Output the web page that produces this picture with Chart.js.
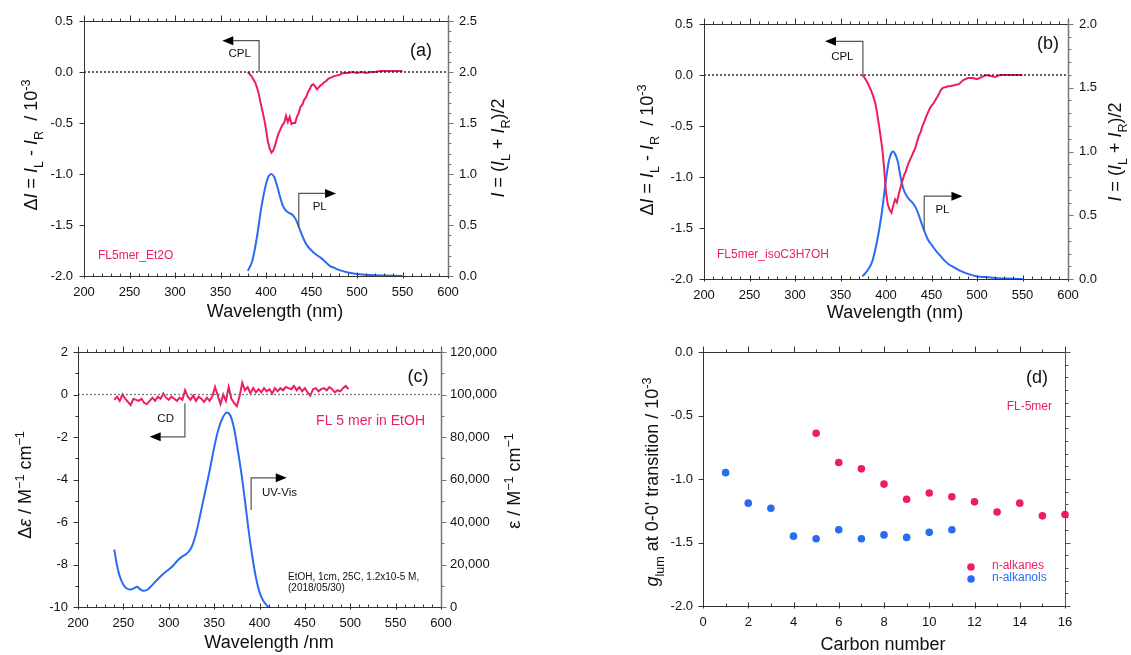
<!DOCTYPE html>
<html>
<head>
<meta charset="utf-8">
<script src="https://cdn.jsdelivr.net/npm/chart.js@4.4.1/dist/chart.umd.min.js"></script>
<style>
  body { margin: 0; background: #fff; overflow: hidden; }
  canvas { position: absolute; }
</style>
</head>
<body>
<canvas id="chartA" width="565" height="330" style="left:0;top:0"></canvas>
<canvas id="chartB" width="566" height="330" style="left:565px;top:0"></canvas>
<canvas id="chartC" width="565" height="325" style="left:0;top:330px"></canvas>
<canvas id="chartD" width="566" height="325" style="left:565px;top:330px"></canvas>
<script>
// ---- data ----
const baselineX = [200, 600];

// (a) FL5mer in Et2O
const wlCplA = [380, 382, 384, 386, 388, 390, 392, 394, 396, 398, 400, 402, 404, 406, 408, 410, 412, 414, 416, 418,
  420, 422, 424, 426, 428, 430, 432, 434, 436, 438, 440, 442, 444, 446, 448, 450, 452, 454, 456, 458, 460, 462, 464,
  466, 468, 470, 475, 480, 485, 490, 495, 500, 505, 510, 515, 520, 525, 530, 535, 540, 545, 550];
const cplA = [0.00, -0.02, -0.04, -0.07, -0.10, -0.15, -0.21, -0.30, -0.38, -0.46, -0.56, -0.68, -0.75, -0.79, -0.77,
  -0.72, -0.65, -0.60, -0.56, -0.52, -0.50, -0.43, -0.49, -0.44, -0.51, -0.50, -0.50, -0.44, -0.40, -0.34, -0.32,
  -0.27, -0.25, -0.20, -0.17, -0.13, -0.12, -0.14, -0.17, -0.15, -0.13, -0.12, -0.10, -0.09, -0.07, -0.06, -0.04,
  -0.03, -0.01, -0.01, 0.00, -0.01, 0.00, -0.01, 0.00, 0.00, 0.01, 0.01, 0.01, 0.01, 0.01, 0.01];
const wlPlA = [380, 385, 390, 395, 400, 403, 406, 409, 412, 415, 418, 421, 425, 429, 433, 437, 441, 445, 450, 455,
  460, 465, 470, 475, 480, 490, 500, 515, 530, 550];
const plA = [0.05, 0.15, 0.38, 0.68, 0.90, 0.98, 1.00, 0.97, 0.89, 0.79, 0.70, 0.65, 0.62, 0.60, 0.55, 0.46, 0.37,
  0.30, 0.25, 0.21, 0.18, 0.14, 0.10, 0.08, 0.06, 0.035, 0.02, 0.01, 0.005, 0.0];

// (b) FL5mer in isoC3H7OH
const wlCplB = [374, 376, 378, 380, 382, 384, 386, 388, 390, 392, 394, 396, 398, 400, 402, 404, 406, 408, 410, 412,
  414, 416, 418, 420, 422, 424, 426, 428, 430, 432, 434, 436, 438, 440, 442, 444, 446, 448, 450, 452, 454, 456, 458,
  460, 462, 464, 466, 468, 470, 475, 480, 485, 490, 495, 500, 505, 510, 515, 520, 525, 530, 535, 540, 545, 550];
const cplB = [0.00, -0.02, -0.05, -0.08, -0.12, -0.16, -0.21, -0.27, -0.36, -0.48, -0.60, -0.73, -0.92, -1.15, -1.27,
  -1.32, -1.35, -1.28, -1.22, -1.25, -1.17, -1.10, -1.04, -0.98, -0.94, -0.88, -0.84, -0.80, -0.76, -0.72, -0.66,
  -0.60, -0.56, -0.50, -0.46, -0.41, -0.37, -0.33, -0.30, -0.28, -0.25, -0.22, -0.19, -0.15, -0.13, -0.12, -0.12,
  -0.11, -0.11, -0.10, -0.09, -0.05, -0.03, -0.03, -0.04, -0.02, 0.00, -0.01, -0.02, 0.00, 0.00, 0.00, 0.00, 0.00, 0.00];
const wlPlB = [374, 380, 385, 390, 395, 400, 403, 406, 408, 410, 413, 416, 419, 422, 426, 430, 434, 438, 442, 446,
  450, 455, 460, 465, 470, 475, 480, 490, 500, 510, 520, 535, 550];
const plB = [0.02, 0.07, 0.14, 0.29, 0.50, 0.78, 0.92, 0.99, 1.00, 0.98, 0.92, 0.80, 0.71, 0.66, 0.62, 0.59, 0.54,
  0.46, 0.38, 0.31, 0.27, 0.22, 0.18, 0.14, 0.11, 0.09, 0.07, 0.04, 0.02, 0.015, 0.008, 0.003, 0.0];

// (c) FL 5 mer in EtOH, CD and UV-Vis
const wlCd = [240, 243, 246, 249, 252, 255, 258, 261, 264, 267, 270, 273, 276, 279, 282, 285, 288, 291, 294, 297,
  300, 303, 306, 309, 312, 315, 318, 321, 324, 327, 330, 333, 336, 339, 342, 345, 348, 351, 354, 357, 360, 363, 366,
  369, 372, 375, 378, 381, 384, 387, 390, 393, 396, 399, 402, 405, 408, 411, 414, 417, 420, 423, 426, 429, 432, 435,
  438, 441, 444, 447, 450, 453, 456, 459, 462, 465, 468, 471, 474, 477, 480, 483, 486, 489, 492, 495, 498];
const cdEps = [-0.25, -0.1, -0.3, 0.0, -0.2, -0.35, -0.5, -0.2, -0.25, -0.3, -0.2, -0.4, -0.45, -0.3, -0.15, -0.3,
  -0.1, -0.2, 0.05, -0.15, -0.25, -0.1, -0.2, -0.3, -0.15, -0.25, 0.2, -0.1, -0.25, -0.05, -0.3, -0.1, -0.2, -0.35,
  -0.15, -0.3, -0.1, 0.35, -0.05, -0.45, 0.0, -0.3, 0.35, -0.2, -0.4, -0.55, -0.1, 0.55, 0.2, 0.35, 0.05, 0.3, 0.1,
  0.25, 0.1, 0.3, 0.15, 0.25, 0.05, 0.3, 0.15, 0.3, 0.2, 0.35, 0.3, 0.25, 0.4, 0.2, 0.35, 0.15, 0.3, 0.1, -0.05,
  0.25, 0.3, 0.15, 0.25, 0.3, 0.2, 0.35, 0.25, 0.1, 0.2, 0.15, 0.3, 0.4, 0.25];
const wlUv = [240, 243, 246, 250, 254, 258, 262, 265, 268, 272, 276, 280, 285, 290, 295, 300, 305, 310, 315, 320,
  325, 330, 335, 340, 345, 350, 355, 360, 364, 368, 372, 376, 380, 384, 388, 392, 396, 400, 404, 408, 410];
const uvEps = [27000, 19500, 14500, 10500, 8700, 8200, 8900, 9500, 8500, 7600, 8000, 9500, 11800, 14000, 16000,
  17600, 19500, 22000, 23800, 25200, 28000, 34500, 44000, 54000, 64000, 75000, 84000, 89500, 91500, 90000, 84000,
  74000, 63000, 50000, 36000, 24000, 14000, 7000, 3000, 800, 0];

// (d) g_lum vs carbon number
const carbonAlkanes = [5, 6, 7, 8, 9, 10, 11, 12, 13, 14, 15, 16];
const gAlkanes = [-0.64, -0.87, -0.92, -1.04, -1.16, -1.11, -1.14, -1.18, -1.26, -1.19, -1.29, -1.28];
const carbonAlkanols = [1, 2, 3, 4, 5, 6, 7, 8, 9, 10, 11];
const gAlkanols = [-0.95, -1.19, -1.23, -1.45, -1.47, -1.40, -1.47, -1.44, -1.46, -1.42, -1.40];

// ---- styling ----
const PINK = "#ee1d5f";
const BLUE = "#2a6cf0";
const FONT = '"Liberation Sans", Arial, sans-serif';
Chart.defaults.font.family = FONT;
Chart.defaults.font.size = 13;
Chart.defaults.color = "#111";

function pts(xs, ys) {
  return xs.map((x, i) => ({ x: x, y: ys[i] }));
}

// each axis box gets a fixed size so the plot area lands where the figure has it
function axis(min, max, step, position, fmt, pad, size) {
  const horiz = position === "top" || position === "bottom";
  return {
    type: "linear",
    position: position,
    min: min,
    max: max,
    grid: { display: false, drawTicks: false },
    border: { display: false },
    ticks: { stepSize: step, autoSkip: false, maxRotation: 0, padding: pad, callback: fmt },
    afterFit: function (s) {
      if (horiz) s.height = size; else s.width = size;
    },
  };
}

function drawRich(ctx, r) {
  const s = r.size;
  const font = (g) => (g.it ? "italic " : "") + (g.sub || g.sup ? s * 0.7 : s) + "px " + FONT;
  let w = 0;
  r.segs.forEach((g) => { ctx.font = font(g); w += ctx.measureText(g.t).width; });
  ctx.save();
  ctx.translate(r.x, r.y);
  if (r.rot) ctx.rotate(-Math.PI / 2);
  ctx.fillStyle = "#111";
  ctx.textAlign = "left";
  ctx.textBaseline = "alphabetic";
  let x = -w / 2;
  r.segs.forEach((g) => {
    ctx.font = font(g);
    const dy = g.sub ? s * 0.28 : g.sup ? -s * 0.42 : 0;
    ctx.fillText(g.t, x, s * 0.36 + dy);
    x += ctx.measureText(g.t).width;
  });
  ctx.restore();
}

// frame lines, tick marks, arrows and labels
function deco(cfg) {
  return {
    id: "deco",
    afterDatasetsDraw(chart) {
      const ctx = chart.ctx;
      const a = chart.chartArea;
      ctx.save();
      (cfg.frame || []).forEach((f) => {
        const sc = chart.scales[f.scale];
        ctx.strokeStyle = f.color || "#333";
        ctx.lineWidth = f.lw || 1;
        ctx.beginPath();
        const bx = Math.round(f.pos === "left" ? a.left : a.right) + 0.5;
        const by = Math.round(f.pos === "top" ? a.top : a.bottom) + 0.5;
        if (f.pos === "top" || f.pos === "bottom") {
          ctx.moveTo(a.left, by);
          ctx.lineTo(a.right, by);
        } else {
          ctx.moveTo(bx, a.top - (f.ext || 0));
          ctx.lineTo(bx, a.bottom);
        }
        ctx.stroke();
        ctx.lineWidth = 1;
        const n = Math.round((f.max - f.min) / f.minor);
        for (let i = 0; i <= n; i++) {
          const v = f.min + i * f.minor;
          const r = v / f.major;
          const major = Math.abs(r - Math.round(r)) < 1e-6;
          const tin = major ? f.majIn : f.minIn;
          const tout = major ? f.majOut : f.minOut;
          if (!tin && !tout) continue;
          const p = Math.round(sc.getPixelForValue(v)) + 0.5;
          ctx.beginPath();
          if (f.pos === "bottom") { ctx.moveTo(p, by - tin); ctx.lineTo(p, by + tout); }
          if (f.pos === "top") { ctx.moveTo(p, by + tin); ctx.lineTo(p, by - tout); }
          if (f.pos === "left") { ctx.moveTo(bx + tin, p); ctx.lineTo(bx - tout, p); }
          if (f.pos === "right") { ctx.moveTo(bx - tin, p); ctx.lineTo(bx + tout, p); }
          ctx.stroke();
        }
      });
      (cfg.arrows || []).forEach((ar) => {
        const xs = chart.scales.x, ys = chart.scales[ar.scale];
        const x0 = xs.getPixelForValue(ar.x);
        const y0 = ys.getPixelForValue(ar.y0);
        const y1 = ys.getPixelForValue(ar.y1);
        const xt = xs.getPixelForValue(ar.tip);
        const dir = Math.sign(xt - x0), head = 11;
        ctx.strokeStyle = "#555";
        ctx.lineWidth = 1.2;
        ctx.beginPath();
        ctx.moveTo(x0, y0);
        ctx.lineTo(x0, y1);
        ctx.lineTo(xt - dir * head, y1);
        ctx.stroke();
        ctx.fillStyle = "#000";
        ctx.beginPath();
        ctx.moveTo(xt, y1);
        ctx.lineTo(xt - dir * head, y1 - 4.5);
        ctx.lineTo(xt - dir * head, y1 + 4.5);
        ctx.closePath();
        ctx.fill();
      });
      (cfg.dots || []).forEach((d) => {
        ctx.fillStyle = d.color;
        ctx.beginPath();
        ctx.arc(d.px, d.py, 3.8, 0, Math.PI * 2);
        ctx.fill();
      });
      (cfg.texts || []).forEach((t) => {
        let x = t.px, y = t.py;
        if (t.scale) {
          x = chart.scales.x.getPixelForValue(t.x);
          y = chart.scales[t.scale].getPixelForValue(t.y);
        }
        ctx.font = (t.size || 12) + "px " + FONT;
        ctx.fillStyle = t.color || "#111";
        ctx.textAlign = t.align || "center";
        ctx.textBaseline = "middle";
        ctx.fillText(t.t, x, y);
      });
      (cfg.rich || []).forEach((r) => drawRich(ctx, r));
      ctx.restore();
    },
  };
}

const fmt1 = (v) => v.toFixed(1);
const fmtInt = (v) => String(v);
const fmtComma = (v) => v.toLocaleString("en-US");

function wlFrame(yMin, yMax, yMajor, leftMinor, leftMinorOut, y2Max, y2Major, y2Minor) {
  return [
    { pos: "bottom", scale: "x", min: 200, max: 600, major: 50, minor: 10, majIn: 4, majOut: 2, minIn: 3, minOut: 0 },
    { pos: "top", scale: "x", min: 200, max: 600, major: 50, minor: 10, majIn: 0, majOut: 6, minIn: 0, minOut: 3 },
    { pos: "left", scale: "y", min: yMin, max: yMax, major: yMajor, minor: leftMinor,
      majIn: 0, majOut: 5, minIn: 0, minOut: leftMinorOut },
    { pos: "right", scale: "y2", min: 0, max: y2Max, major: y2Major, minor: y2Minor,
      majIn: 0, majOut: 5, minIn: 0, minOut: 3, color: "#777", lw: 1.5, ext: 4 },
  ];
}

function lineSet(xs, ys, color, axisId, smooth) {
  return {
    data: pts(xs, ys),
    yAxisID: axisId,
    borderColor: color,
    borderWidth: 2,
    pointRadius: 0,
    tension: smooth ? 0.4 : 0,
    cubicInterpolationMode: smooth ? "monotone" : "default",
  };
}

function zeroSet(color) {
  return {
    data: pts(baselineX, [0, 0]),
    yAxisID: "y",
    borderColor: color,
    borderWidth: 1.3,
    borderDash: [2, 2],
    pointRadius: 0,
  };
}

const common = {
  responsive: false,
  animation: false,
  plugins: { legend: { display: false }, tooltip: { enabled: false } },
};

// (a)
new Chart(document.getElementById("chartA"), {
  type: "line",
  data: { datasets: [zeroSet("#111"), lineSet(wlCplA, cplA, PINK, "y"), lineSet(wlPlA, plA, BLUE, "y2", true)] },
  options: Object.assign({}, common, {
    layout: { padding: { left: 0, right: 0, top: 21, bottom: 0 } },
    scales: {
      x: axis(200, 600, 50, "bottom", fmtInt, 9, 54),
      y: axis(-2, 0.5, 0.5, "left", fmt1, 11, 84),
      y2: axis(0, 2.5, 0.5, "right", fmt1, 11, 117),
    },
  }),
  plugins: [deco({
    frame: wlFrame(-2, 0.5, 0.5, 0.5, 0, 2.5, 0.5, 0.1),
    arrows: [
      { scale: "y", x: 392.4, y0: 0, y1: 0.307, tip: 352 },
      { scale: "y2", x: 436, y0: 0.48, y1: 0.81, tip: 477 },
    ],
    texts: [
      { t: "(a)", px: 421, py: 51, size: 18 },
      { t: "FL5mer_Et2O", px: 98, py: 256, size: 12, color: PINK, align: "left" },
      { t: "CPL", scale: "y", x: 371, y: 0.176, size: 11.5 },
      { t: "PL", scale: "y2", x: 459, y: 0.68, size: 11.5 },
      { t: "Wavelength (nm)", px: 275, py: 312, size: 18 },
    ],
    rich: [
      { x: 31, y: 145, rot: true, size: 18, segs: [{ t: "Δ" }, { t: "I", it: 1 }, { t: " = " }, { t: "I", it: 1 },
        { t: "L", sub: 1 }, { t: " - " }, { t: "I", it: 1 }, { t: "R", sub: 1 }, { t: "  / 10" }, { t: "-3", sup: 1 }] },
      { x: 498, y: 148, rot: true, size: 18, segs: [{ t: "I", it: 1 }, { t: " = (" }, { t: "I", it: 1 }, { t: "L", sub: 1 },
        { t: " + " }, { t: "I", it: 1 }, { t: "R", sub: 1 }, { t: ")/2" }] },
    ],
  })],
});

// (b)
new Chart(document.getElementById("chartB"), {
  type: "line",
  data: { datasets: [zeroSet("#111"), lineSet(wlCplB, cplB, PINK, "y"), lineSet(wlPlB, plB, BLUE, "y2", true)] },
  options: Object.assign({}, common, {
    layout: { padding: { left: 0, right: 0, top: 24, bottom: 0 } },
    scales: {
      x: axis(200, 600, 50, "bottom", fmtInt, 9, 51),
      y: axis(-2, 0.5, 0.5, "left", fmt1, 11, 139),
      y2: axis(0, 2.0, 0.5, "right", fmt1, 11, 63),
    },
  }),
  plugins: [deco({
    frame: wlFrame(-2, 0.5, 0.5, 0.5, 0, 2.0, 0.5, 0.1),
    arrows: [
      { scale: "y", x: 374.6, y0: 0, y1: 0.33, tip: 333 },
      { scale: "y2", x: 442, y0: 0.385, y1: 0.65, tip: 484 },
    ],
    texts: [
      { t: "(b)", px: 483, py: 44, size: 18 },
      { t: "FL5mer_isoC3H7OH", px: 152, py: 255, size: 12, color: PINK, align: "left" },
      { t: "CPL", scale: "y", x: 352, y: 0.18, size: 11.5 },
      { t: "PL", scale: "y2", x: 462, y: 0.54, size: 11.5 },
      { t: "Wavelength (nm)", px: 330, py: 313, size: 18 },
    ],
    rich: [
      { x: 82, y: 150, rot: true, size: 18, segs: [{ t: "Δ" }, { t: "I", it: 1 }, { t: " = " }, { t: "I", it: 1 },
        { t: "L", sub: 1 }, { t: " - " }, { t: "I", it: 1 }, { t: "R", sub: 1 }, { t: "  / 10" }, { t: "-3", sup: 1 }] },
      { x: 550, y: 152, rot: true, size: 18, segs: [{ t: "I", it: 1 }, { t: " = (" }, { t: "I", it: 1 }, { t: "L", sub: 1 },
        { t: " + " }, { t: "I", it: 1 }, { t: "R", sub: 1 }, { t: ")/2" }] },
    ],
  })],
});

// (c)
new Chart(document.getElementById("chartC"), {
  type: "line",
  data: { datasets: [zeroSet("#777"), lineSet(wlCd, cdEps, PINK, "y"), lineSet(wlUv, uvEps, BLUE, "y2", true)] },
  options: Object.assign({}, common, {
    layout: { padding: { left: 0, right: 0, top: 22, bottom: 0 } },
    scales: {
      x: axis(200, 600, 50, "bottom", fmtInt, 9, 48),
      y: axis(-10, 2, 2, "left", fmtInt, 10, 78),
      y2: axis(0, 120000, 20000, "right", fmtComma, 9, 124),
    },
  }),
  plugins: [deco({
    frame: wlFrame(-10, 2, 2, 1, 3, 120000, 20000, 10000),
    arrows: [
      { scale: "y", x: 317.8, y0: -0.41, y1: -1.99, tip: 279 },
      { scale: "y2", x: 390.8, y0: 45600, y1: 60800, tip: 430 },
    ],
    texts: [
      { t: "(c)", px: 418, py: 47, size: 18 },
      { t: "FL 5 mer in EtOH", px: 425, py: 91, size: 14, color: PINK, align: "right" },
      { t: "EtOH, 1cm, 25C, 1.2x10-5 M,", px: 288, py: 247, size: 10, align: "left" },
      { t: "(2018/05/30)", px: 288, py: 258, size: 10, align: "left" },
      { t: "CD", scale: "y", x: 296.6, y: -1.15, size: 11.5 },
      { t: "UV-Vis", scale: "y2", x: 422, y: 53500, size: 11.5 },
      { t: "Wavelength /nm", px: 269, py: 313, size: 18 },
    ],
    rich: [
      { x: 25, y: 155, rot: true, size: 18, segs: [{ t: "Δ" }, { t: "ε", it: 1 }, { t: " / M" }, { t: "−1", sup: 1 },
        { t: " cm" }, { t: "−1", sup: 1 }] },
      { x: 514, y: 151, rot: true, size: 18, segs: [{ t: "ε / M" }, { t: "−1", sup: 1 }, { t: " cm" }, { t: "−1", sup: 1 }] },
    ],
  })],
});

// (d)
new Chart(document.getElementById("chartD"), {
  type: "scatter",
  data: {
    datasets: [
      { data: pts(carbonAlkanes, gAlkanes), backgroundColor: PINK, borderWidth: 0, pointRadius: 3.8, clip: false },
      { data: pts(carbonAlkanols, gAlkanols), backgroundColor: BLUE, borderWidth: 0, pointRadius: 3.8, clip: false },
    ],
  },
  options: Object.assign({}, common, {
    layout: { padding: { left: 0, right: 66, top: 22, bottom: 0 } },
    scales: {
      x: axis(0, 16, 2, "bottom", fmtInt, 9, 49),
      y: axis(-2, 0, 0.5, "left", fmt1, 10, 138),
    },
  }),
  plugins: [deco({
    frame: [
      { pos: "bottom", scale: "x", min: 0, max: 16, major: 2, minor: 1, majIn: 4, majOut: 2, minIn: 3, minOut: 0 },
      { pos: "top", scale: "x", min: 0, max: 16, major: 2, minor: 1, majIn: 0, majOut: 6, minIn: 0, minOut: 3 },
      { pos: "left", scale: "y", min: -2, max: 0, major: 0.5, minor: 0.1, majIn: 0, majOut: 5, minIn: 0, minOut: 0 },
      { pos: "right", scale: "y", min: -2, max: 0, major: 0.5, minor: 0.1, majIn: 0, majOut: 5, minIn: 0, minOut: 3,
        color: "#555" },
    ],
    dots: [
      { px: 406, py: 237, color: PINK },
      { px: 406, py: 249, color: BLUE },
    ],
    texts: [
      { t: "(d)", px: 472, py: 48, size: 18 },
      { t: "FL-5mer", px: 487, py: 77, size: 12, color: PINK, align: "right" },
      { t: "n-alkanes", px: 427, py: 236, size: 12, color: PINK, align: "left" },
      { t: "n-alkanols", px: 427, py: 248, size: 12, color: BLUE, align: "left" },
      { t: "Carbon number", px: 318, py: 315, size: 18 },
    ],
    rich: [
      { x: 87, y: 152, rot: true, size: 18, segs: [{ t: "g", it: 1 }, { t: "lum", sub: 1 },
        { t: " at 0-0' transition / 10" }, { t: "-3", sup: 1 }] },
    ],
  })],
});
</script>
</body>
</html>
